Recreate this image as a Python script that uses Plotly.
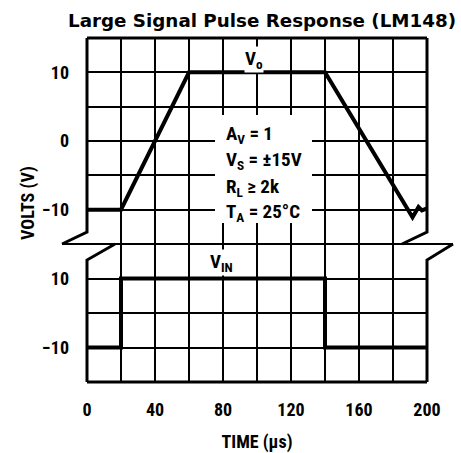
import plotly.graph_objects as go

# ---- data ----
vo_time = [0, 20, 60, 140, 191.5, 195, 197, 200]
vo_volts = [-10, -10, 10, 10, -11.1, -9.6, -10.1, -9.8]
vin_time = [0, 20, 20, 140, 140, 200]
vin_volts = [-10, -10, 10, 10, -10, -10]

x_ticks = [0, 20, 40, 60, 80, 100, 120, 140, 160, 180, 200]
x_ticktext = ["0", "", "40", "", "80", "", "120", "", "160", "", "200"]
up_ticks = [-15, -10, -5, 0, 5, 10, 15]
up_ticktext = ["", "\u221210", "", "0", "", "10", ""]
lo_ticks = [-20, -10, 0, 10, 20]
lo_ticktext = ["", "\u221210", "", "10", ""]

W, H = 461, 453
L, R, T, B = 87, 427, 38, 382
SPLIT = 244
lo_top = (B - SPLIT) / (B - T)

NARROW = "Roboto Condensed, Liberation Sans, sans-serif"

def px(xp):
    return (xp - L) / (R - L)

def py(yp):
    return (B - yp) / (B - T)

fig = go.Figure()
fig.add_trace(go.Scatter(x=vin_time, y=vin_volts, mode="lines", xaxis="x", yaxis="y",
                         line=dict(color="black", width=4), showlegend=False, hoverinfo="skip"))
fig.add_trace(go.Scatter(x=vo_time, y=vo_volts, mode="lines", xaxis="x2", yaxis="y2",
                         line=dict(color="black", width=4), showlegend=False, hoverinfo="skip",
                         cliponaxis=False))

tickfont = dict(family=NARROW, size=18, color="black", weight="bold")

fig.update_layout(
    width=W, height=H,
    margin=dict(l=L, r=W - R, t=T, b=H - B),
    plot_bgcolor="white", paper_bgcolor="white",
    xaxis=dict(domain=[0, 1], range=[0, 200], anchor="y", tickvals=x_ticks, ticktext=x_ticktext,
               showgrid=True, gridcolor="black", gridwidth=2, zeroline=False, showline=False,
               ticks="", tickfont=tickfont, ticklabelstandoff=15, automargin=False,
               title=dict(text="TIME (\u03bcs)", font=dict(family=NARROW, size=18, color="black", weight="bold"),
                          standoff=19)),
    yaxis=dict(domain=[0, lo_top], range=[-20, 20], anchor="x", tickvals=lo_ticks, ticktext=lo_ticktext,
               showgrid=True, gridcolor="black", gridwidth=2, zeroline=False, showline=False,
               ticks="", tickfont=tickfont, ticklabelstandoff=17, automargin=False),
    xaxis2=dict(domain=[0, 1], range=[0, 200], anchor="y2", matches="x", tickvals=x_ticks,
                showticklabels=False, showgrid=True, gridcolor="black", gridwidth=2,
                zeroline=False, showline=False, ticks="", automargin=False),
    yaxis2=dict(domain=[lo_top, 1], range=[-15, 15], anchor="x2", tickvals=up_ticks, ticktext=up_ticktext,
                showgrid=True, gridcolor="black", gridwidth=2, zeroline=False, showline=False,
                ticks="", tickfont=tickfont, ticklabelstandoff=17, automargin=False),
)

shapes = []
shapes.append(dict(type="rect", xref="paper", yref="paper", x0=px(215), x1=px(312), y0=py(223), y1=py(115),
                   fillcolor="white", line=dict(width=0), layer="above"))
border = dict(color="black", width=3)
paths = [
    [(L, T), (R, T)],
    [(L, B), (R, B)],
    [(L, T), (L, 232), (62, SPLIT)],
    [(115, SPLIT), (L, 260), (L, B)],
    [(R, T), (R, 232), (402, SPLIT)],
    [(453, SPLIT), (R, 260), (R, B)],
]
for p in paths:
    d = "M " + " L ".join(f"{px(a):.5f},{py(b):.5f}" for a, b in p)
    shapes.append(dict(type="path", xref="paper", yref="paper", path=d, line=border, layer="above"))
shapes.append(dict(type="line", xref="paper", yref="paper", x0=px(62), x1=px(453), y0=py(SPLIT), y1=py(SPLIT),
                   line=dict(color="black", width=2), layer="above"))
fig.update_layout(shapes=shapes)

lab = dict(family=NARROW, size=19, color="black", weight="bold")
ann = []
ann.append(dict(text="Large Signal Pulse Response (LM148)", xref="paper", yref="paper",
                x=px(262), y=py(21), xanchor="center", yanchor="middle", showarrow=False,
                font=dict(family="DejaVu Sans, sans-serif", size=18.3, color="black", weight="bold")))
ann.append(dict(text="VOLTS (V)", xref="paper", yref="paper", x=px(28), y=py(203), textangle=-90,
                xanchor="center", yanchor="middle", showarrow=False,
                font=dict(family=NARROW, size=18, color="black", weight="bold")))
ann.append(dict(text="V<sub>o</sub>", xref="x2", yref="y2", x=98.5, y=11.8, xanchor="center",
                yanchor="middle", showarrow=False, font=lab, bgcolor="white", borderpad=0))
ann.append(dict(text="V<sub>IN</sub>", xref="x", yref="y", x=79, y=14.5, xanchor="center",
                yanchor="middle", showarrow=False, font=lab, bgcolor="white", borderpad=0))
params = ["A<sub>V</sub> = 1", "V<sub>S</sub> = \u00b115V", "R<sub>L</sub> \u2265 2k", "T<sub>A</sub> = 25\u00b0C"]
ys = [134, 160, 187, 212]
for t, yy in zip(params, ys):
    ann.append(dict(text=t, xref="paper", yref="paper", x=px(224), y=py(yy), xanchor="left",
                    yanchor="middle", showarrow=False, font=lab))
fig.update_layout(annotations=ann)

fig.write_html("out.html", config={"displayModeBar": False},
               post_script="document.body.style.margin='0';document.body.style.padding='0';")
